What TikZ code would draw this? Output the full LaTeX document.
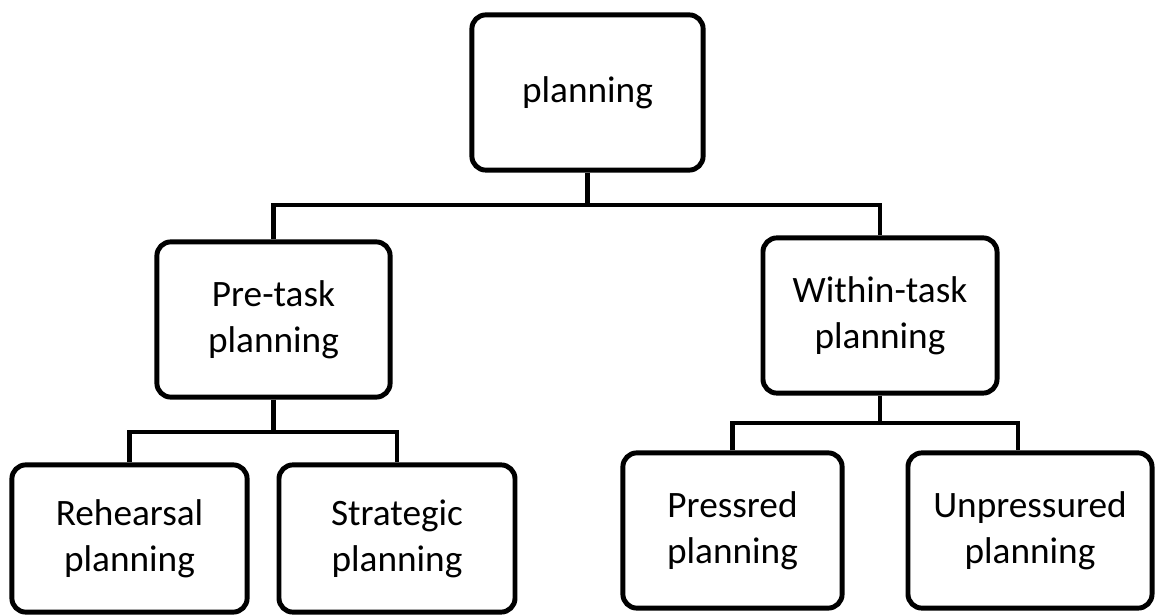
\documentclass[tikz,border=0pt]{standalone}
\usepackage{fontspec}
\setmainfont{Carlito}
\usetikzlibrary{positioning}
\tikzstyle{PlanNode}=[draw=black, rounded corners=0.35cm, line width=3.5pt, align=center, inner sep=0pt, font=\fontsize{26.5}{32.7}\selectfont]

\begin{document}
\begin{tikzpicture}[x=0.025cm, y=-0.025cm, line width=3.5pt]
      \useasboundingbox (0,0) rectangle (1157,615);
      \node[PlanNode, minimum width=5.78cm, minimum height=3.88cm] (plan) at (587.5,92.5) {planning};
      \node[PlanNode, minimum width=5.83cm, minimum height=3.88cm] (pre) at (273.5,319.5) {Pre-task\\planning};
      \node[PlanNode, minimum width=5.85cm, minimum height=3.88cm] (within) at (880,315.5) {Within-task\\planning};
      \node[PlanNode, minimum width=5.88cm, minimum height=3.68cm] (rehearsal) at (129.5,538.5) {Rehearsal\\planning};
      \node[PlanNode, minimum width=5.90cm, minimum height=3.68cm] (strategic) at (397,538.5) {Strategic\\planning};
      \node[PlanNode, minimum width=5.48cm, minimum height=3.88cm] (pressed) at (732.5,530.5) {Pressred\\planning};
      \node[PlanNode, minimum width=6.10cm, minimum height=3.88cm] (unpressed) at (1030,530.5) {Unpressured\\planning};
      \coordinate (j1) at (587.5,205);
      \coordinate (j2) at (273.5,432);
      \coordinate (j3) at (880,423);
      \draw (plan) -- (j1);
      \draw (pre.north) |- (j1) -| (within.north);
      \draw (pre) -- (j2);
      \draw (rehearsal.north) |- (j2) -| (strategic.north);
      \draw (within) -- (j3);
      \draw (pressed.north) |- (j3) -| ([xshift=-0.3cm]unpressed.north);
    \end{tikzpicture}
\end{document}
